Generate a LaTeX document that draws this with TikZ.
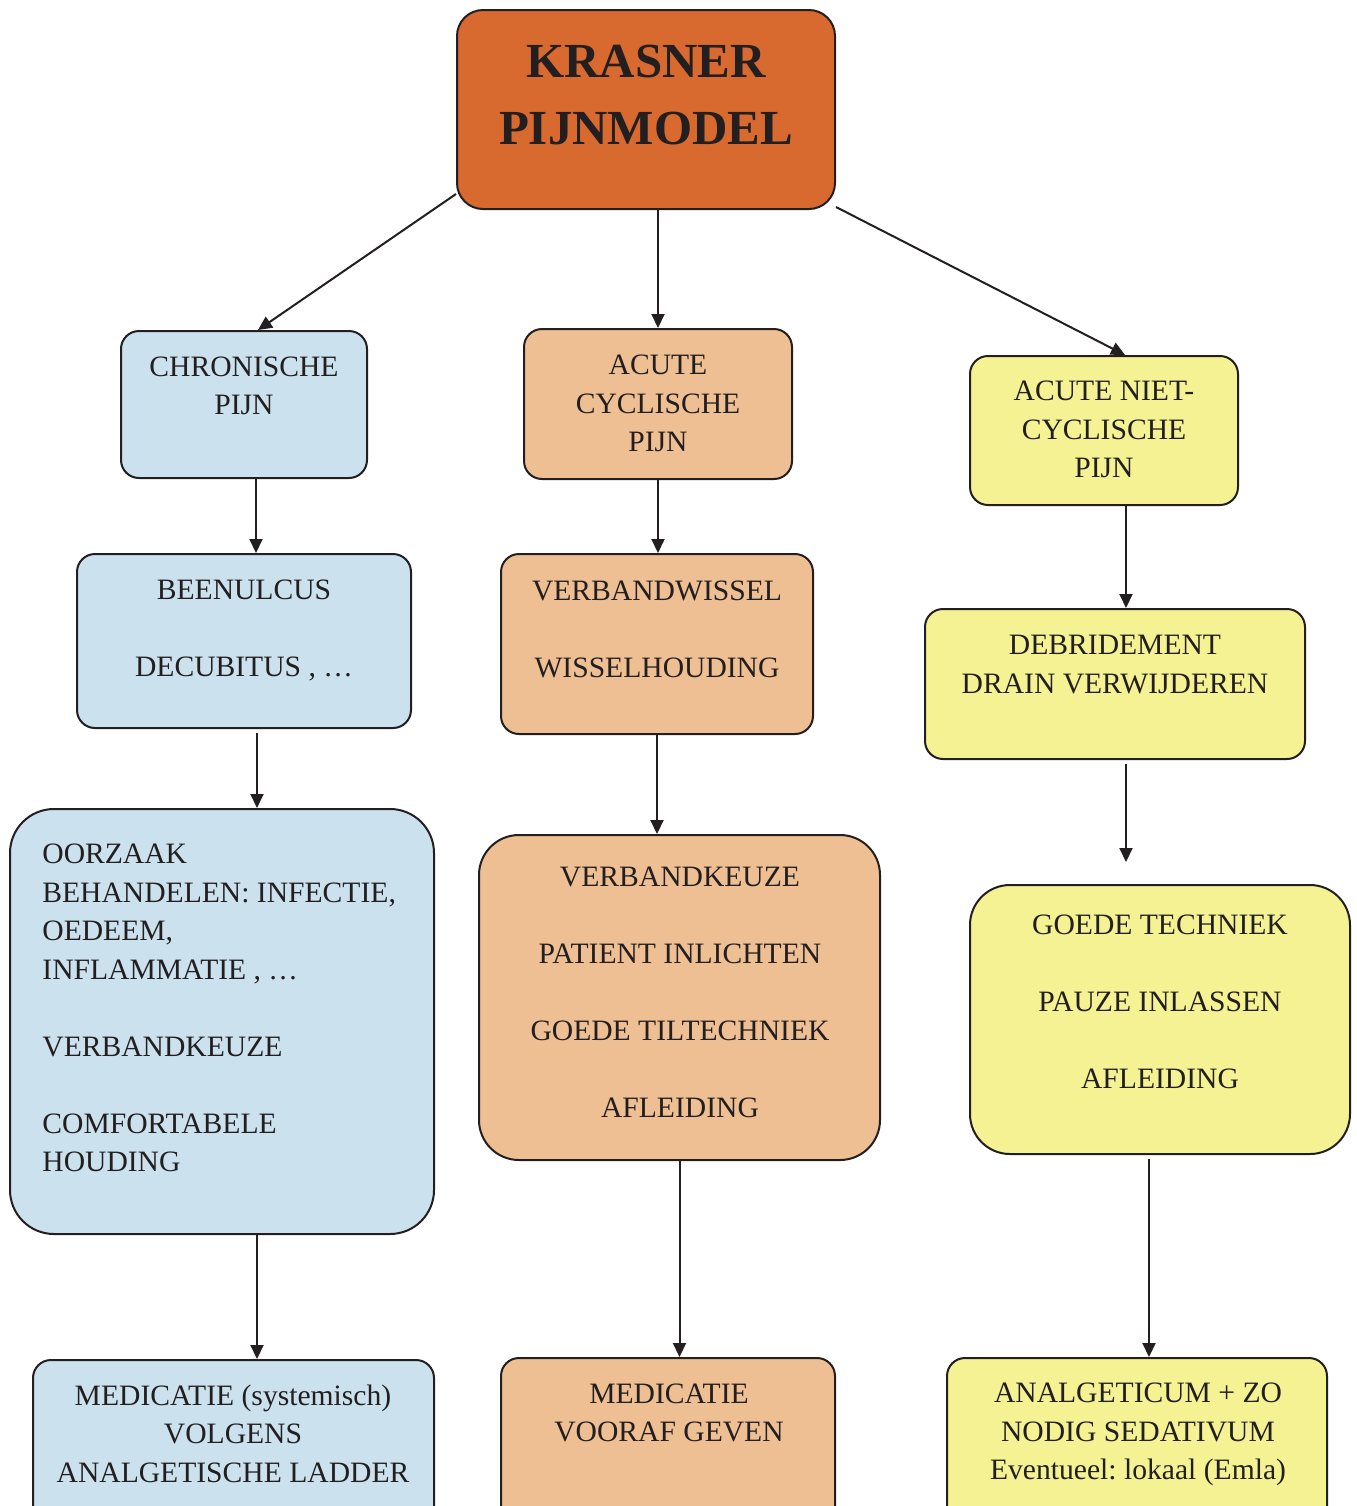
\documentclass[tikz,border=0pt]{standalone}
\usepackage{fontspec}
\setmainfont{Liberation Serif}
\usetikzlibrary{arrows.meta,fit}
\definecolor{edge}{HTML}{231F20}
\definecolor{ttl}{HTML}{D86A2F}
\definecolor{blu}{HTML}{CBE2EE}
\definecolor{pch}{HTML}{EEBF93}
\definecolor{yel}{HTML}{F5F294}
\frenchspacing
\begin{document}
\begin{tikzpicture}[x=0.5pt,y=-0.5pt,
  box/.style={draw=edge,line width=1pt,inner sep=0pt,rounded corners=9pt},
  bigbox/.style={box,rounded corners=22pt},
  txt/.style={inner sep=0pt,align=center,text=edge,font=\fontsize{14.8pt}{19.25pt}\selectfont},
  arr/.style={draw=edge,line width=1pt,-{Triangle[length=7pt,width=6.5pt]}}]
\useasboundingbox (0,0) rectangle (1356,1506);
\clip (0,0) rectangle (1356,1506);
% boxes
\node[box,fill=ttl,rounded corners=13pt,fit={(457,10) (835,209)}] (title) {};
\node[box,fill=blu,fit={(121,331) (367,478)}] (chron) {};
\node[box,fill=pch,fit={(524,329) (792,479)}] (acute) {};
\node[box,fill=yel,fit={(970,356) (1238,505)}] (niet) {};
\node[box,fill=blu,fit={(77,554) (411,728)}] (been) {};
\node[box,fill=pch,fit={(501,554) (813,734)}] (vw) {};
\node[box,fill=yel,fit={(925,609) (1305,759)}] (debr) {};
\node[bigbox,fill=blu,fit={(10,809) (434,1234)}] (oorz) {};
\node[bigbox,fill=pch,rounded corners=20pt,fit={(479,835) (880,1160)}] (vk) {};
\node[bigbox,fill=yel,rounded corners=20pt,fit={(970,885) (1350,1154)}] (goede) {};
\node[box,fill=blu,fit={(33,1360) (434,1540)}] (msys) {};
\node[box,fill=pch,fit={(501,1358) (835,1540)}] (vooraf) {};
\node[box,fill=yel,fit={(947,1358) (1327,1540)}] (analg) {};
% texts
\node[inner sep=0pt,align=center,text=edge,font=\fontsize{24.5pt}{33.5pt}\selectfont\bfseries] (ttitle) at (646,95) {KRASNER\\PIJNMODEL};
\node[txt] (tchron) at (244,386) {CHRONISCHE\\PIJN};
\node[txt] (tacute) at (658,403.5) {ACUTE\\CYCLISCHE\\PIJN};
\node[txt] (tniet) at (1104,429.5) {ACUTE NIET-\\CYCLISCHE\\PIJN};
\node[txt] (tbeen) at (244,630) {BEENULCUS\\[19.25pt]DECUBITUS , …};
\node[txt] (tvw) at (657,629.5) {VERBANDWISSEL\\[19.25pt]WISSELHOUDING};
\node[txt] (tdebr) at (1115,664.5) {DEBRIDEMENT\\DRAIN VERWIJDEREN};
\node[txt,align=left,anchor=west] (toorz) at (42,1008) {OORZAAK\\BEHANDELEN: INFECTIE,\\OEDEEM,\\INFLAMMATIE , …\\[19.25pt]VERBANDKEUZE\\[19.25pt]COMFORTABELE\\HOUDING};
\node[txt] (tvk) at (680,992.5) {VERBANDKEUZE\\[19.25pt]PATIENT INLICHTEN\\[19.25pt]GOEDE TILTECHNIEK\\[19.25pt]AFLEIDING};
\node[txt] (tgoede) at (1160,1002) {GOEDE TECHNIEK\\[19.25pt]PAUZE INLASSEN\\[19.25pt]AFLEIDING};
\node[txt] (tmsys) at (233,1433.5) {MEDICATIE (systemisch)\\VOLGENS\\ANALGETISCHE LADDER};
\node[txt] (tvooraf) at (669,1413) {MEDICATIE\\VOORAF GEVEN};
\node[txt] (tanalg) at (1138,1434.5) {ANALGETICUM + ZO\\NODIG SEDATIVUM\\Eventueel: lokaal (Emla)};
% connectors
\coordinate (gapend) at (1126,862);
\draw[arr] ([yshift=8pt]title.south west) -- ([xshift=7pt]chron.north);
\draw[arr] (title.south -| acute.north) -- (acute.north);
\draw[arr] ([yshift=1.5pt]title.south east) -- ([xshift=10.5pt]niet.north);
\draw[arr] ([xshift=6pt]chron.south) -- ([xshift=6pt]been.north);
\draw[arr] (acute.south) -- (acute.south |- vw.north);
\draw[arr] ([xshift=11pt]niet.south) -- ([xshift=11pt]niet.south |- debr.north);
\draw[arr] ([xshift=6.5pt,yshift=-2pt]been.south) -- ([xshift=6.5pt]been.south |- oorz.north);
\draw[arr] (vw.south) -- (vw.south |- vk.north);
\draw[arr] ([xshift=5.5pt,yshift=-2pt]debr.south) -- (gapend);
\draw[arr] ([xshift=17.5pt]oorz.south) -- ([xshift=17.5pt]oorz.south |- msys.north);
\draw[arr] (vk.south) -- (vk.south |- vooraf.north);
\draw[arr] ([xshift=-5.5pt,yshift=-2pt]goede.south) -- ([xshift=-5.5pt]goede.south |- analg.north);
\end{tikzpicture}
\end{document}
